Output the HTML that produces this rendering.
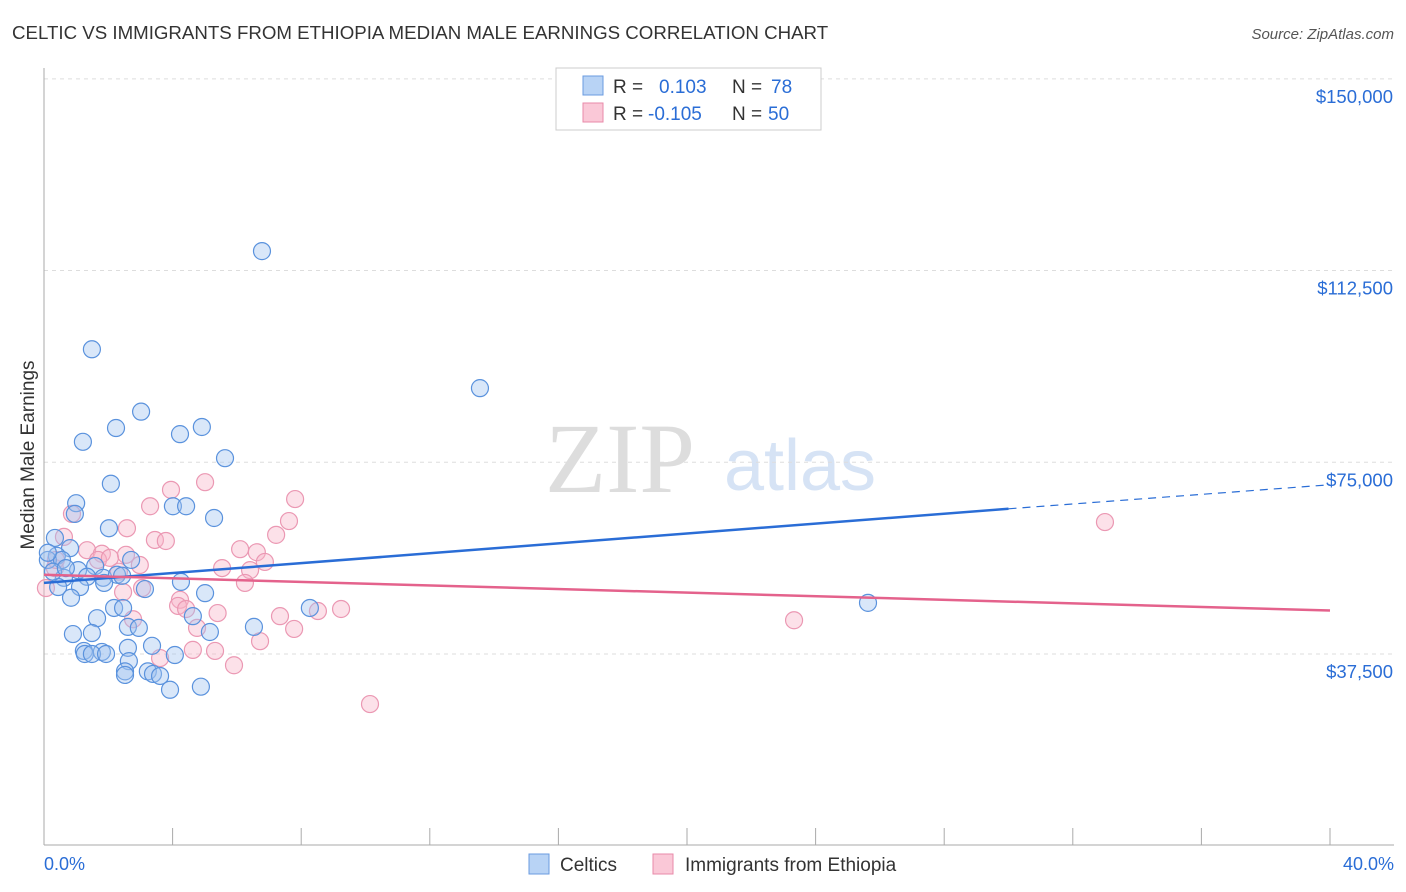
<!DOCTYPE html>
<html><head><meta charset="utf-8"><style>
body{margin:0;background:#fff;font-family:"Liberation Sans",sans-serif;}
#wrap{position:relative;width:1406px;height:892px;overflow:hidden}
</style></head><body>
<div id="wrap">
<svg id="chart" width="1406" height="892">
<text x="12" y="39" font-size="18.7" fill="#333">CELTIC VS IMMIGRANTS FROM ETHIOPIA MEDIAN MALE EARNINGS CORRELATION CHART</text>
<text x="1394" y="39" font-size="15" fill="#555" font-style="italic" text-anchor="end">Source: ZipAtlas.com</text>
<text x="34" y="455" font-size="19" fill="#333" text-anchor="middle" transform="rotate(-90 34 455)">Median Male Earnings</text>
<text x="620" y="492" font-size="100" fill="#ddd" font-family="Liberation Serif,serif" text-anchor="middle">ZIP</text>
<text x="800" y="490" font-size="72" fill="#d6e3f5" text-anchor="middle">atlas</text>
<g id="grid"></g><g id="pts"></g><g id="lines"></g>
<g>
<rect x="556" y="68" width="265" height="62" fill="#fff" stroke="#ccc"/>
<rect x="583" y="76" width="20" height="19" fill="#b8d3f5" stroke="#6a9be0"/>
<rect x="583" y="103" width="20" height="19" fill="#fac8d7" stroke="#e88aa8"/>
<g font-size="19">
<text x="613" y="93" fill="#333">R =</text><text x="659" y="93" fill="#2a6dd6">0.103</text>
<text x="732" y="93" fill="#333">N =</text><text x="771" y="93" fill="#2a6dd6">78</text></g>
<g font-size="19">
<text x="613" y="120" fill="#333">R =</text><text x="648" y="120" fill="#2a6dd6">-0.105</text>
<text x="732" y="120" fill="#333">N =</text><text x="768" y="120" fill="#2a6dd6">50</text></g>
</g>
<text x="44" y="870" font-size="18" fill="#2a6dd6">0.0%</text>
<text x="1394" y="870" font-size="18" fill="#2a6dd6" text-anchor="end">40.0%</text>
<rect x="529" y="854" width="20" height="20" fill="#b8d3f5" stroke="#6a9be0"/>
<text x="560" y="871" font-size="19" fill="#333">Celtics</text>
<rect x="653" y="854" width="20" height="20" fill="#fac8d7" stroke="#e88aa8"/>
<text x="685" y="871" font-size="19" fill="#333">Immigrants from Ethiopia</text>
</svg></div>
<script>
const yTicks=[37500,75000,112500,150000];
const yTickLabels=["$37,500","$75,000","$112,500","$150,000"];
const xTicks=[0,4,8,12,16,20,24,28,32,36,40];
const celticsX=[6.78,1.49,13.56,3.02,2.24,4.91,4.23,1.21,5.63,2.08,1.0,4.01,4.42,0.96,5.29,2.02,0.34,0.81,0.40,0.12,0.56,2.71,1.59,1.06,0.62,1.84,2.27,1.34,2.43,4.26,0.44,1.87,3.14,1.12,5.01,0.84,2.18,2.46,8.27,4.63,1.65,25.63,2.61,2.95,6.53,5.16,0.90,1.49,3.36,2.61,1.24,1.8,1.27,1.49,1.93,4.07,2.64,2.52,3.23,2.52,3.39,3.61,3.92,4.88,0.12,0.28,0.68];
const celticsY=[116.3,97.1,89.5,84.9,81.7,81.9,80.5,79.0,75.8,70.8,67.0,66.4,66.4,64.9,64.1,62.1,60.2,58.2,56.7,55.9,55.9,55.9,54.7,53.9,52.4,52.4,53.0,52.6,52.8,51.6,50.6,51.4,50.2,50.6,49.4,48.5,46.5,46.5,46.5,44.9,44.5,47.5,42.8,42.6,42.8,41.8,41.4,41.6,39.1,38.7,38.1,37.9,37.5,37.5,37.5,37.3,36.1,34.1,34.1,33.4,33.6,33.2,30.5,31.1,57.3,53.6,54.3];
const ethX=[33.0,23.33,10.14,5.01,7.81,3.95,3.30,7.62,0.87,2.58,7.22,3.45,3.79,0.62,6.1,6.62,1.34,1.8,2.55,1.68,6.87,2.98,5.54,6.41,0.34,2.33,0.06,3.05,6.25,2.46,4.23,4.17,4.42,9.24,8.52,5.40,7.34,2.77,4.76,7.78,6.72,4.63,5.32,3.61,5.91,0.37,2.05];
const ethY=[63.3,44.1,27.7,71.1,67.8,69.6,66.4,63.5,64.9,62.1,60.8,59.8,59.6,60.4,58.0,57.4,57.8,57.1,56.9,55.9,55.5,54.9,54.3,53.9,54.3,53.6,50.4,50.4,51.4,49.6,48.1,46.9,46.3,46.3,45.9,45.5,44.9,44.3,42.6,42.4,40.0,38.3,38.1,36.7,35.3,55.9,56.3];
const celticsTrend=[[0,51.4],[30,65.9],[40,70.6]];
const ethTrend=[[0,53.0],[40,46.0]];
const NS="http://www.w3.org/2000/svg";
const X=v=>44+v*32.15, Y=k=>845.7-k*1000/195.6;
function mk(t,a,p){const e=document.createElementNS(NS,t);for(const k in a)e.setAttribute(k,a[k]);p.appendChild(e);return e;}
const grid=document.getElementById('grid');
yTicks.forEach((v,i)=>{
 const l=mk('line',{x1:44,x2:1394,y1:Y(v/1000),y2:Y(v/1000),stroke:'#ddd','stroke-dasharray':'4,4'},grid);
 
 
 const t=mk('text',{x:1393,y:Y(v/1000)+24,'font-size':18.5,fill:'#2a6dd6','text-anchor':'end'},grid);t.textContent=yTickLabels[i];
 
 
});
const ax=mk('line',{x1:44,x2:44,y1:68,y2:845,stroke:'#aaa'},grid);


const bx=mk('line',{x1:44,x2:1394,y1:845,y2:845,stroke:'#aaa'},grid);


xTicks.forEach(v=>{const t=mk('line',{x1:X(v),x2:X(v),y1:828,y2:845,stroke:'#aaa'},grid);
 
 });
const pts=document.getElementById('pts');
ethX.forEach((x,i)=>{const c=mk('circle',{cx:X(x),cy:Y(ethY[i]),r:8.5,fill:'rgba(248,180,200,0.4)',stroke:'#eb98b3','stroke-width':1.2},pts);
 
 });
celticsX.forEach((x,i)=>{const c=mk('circle',{cx:X(x),cy:Y(celticsY[i]),r:8.5,fill:'rgba(160,195,240,0.4)',stroke:'#5a92dd','stroke-width':1.2},pts);
 
 });
const ln=document.getElementById('lines');
const b1=mk('line',{x1:X(celticsTrend[0][0]),y1:Y(celticsTrend[0][1]),x2:X(celticsTrend[1][0]),y2:Y(celticsTrend[1][1]),stroke:'#2a6dd6','stroke-width':2.5},ln);


const b2=mk('line',{x1:X(celticsTrend[1][0]),y1:Y(celticsTrend[1][1]),x2:X(celticsTrend[2][0]),y2:Y(celticsTrend[2][1]),stroke:'#2a6dd6','stroke-width':1.2,'stroke-dasharray':'8,6'},ln);


const p1=mk('line',{x1:X(ethTrend[0][0]),y1:Y(ethTrend[0][1]),x2:X(ethTrend[1][0]),y2:Y(ethTrend[1][1]),stroke:'#e4628c','stroke-width':2.5},ln);


</script>
</body></html>
